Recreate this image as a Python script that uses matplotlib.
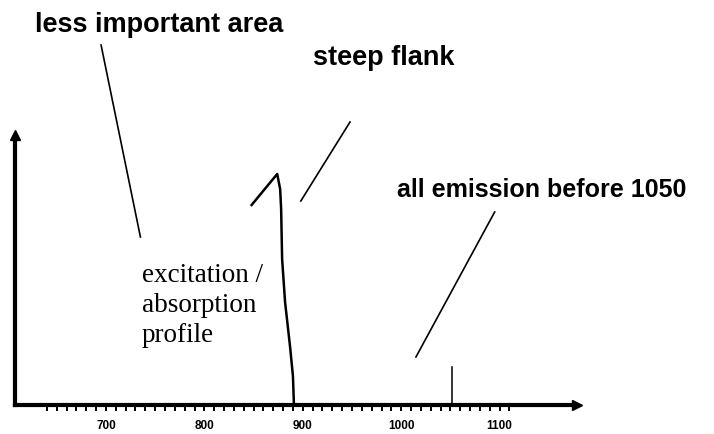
import numpy as np
import matplotlib.pyplot as plt

# excitation / absorption profile (wavelength nm, relative height)
profile_x = [848, 874, 877, 878, 879, 882, 887, 890, 891]
profile_y = [200, 231, 216, 196, 146, 103, 59, 29, 0]

# emission line
emission_x = [1052, 1052]
emission_y = [0, 38]

# pointer strokes for the notes
note_lines = {
    "less important area": ([695, 735], [360, 168]),
    "steep flank": ([948, 898], [283, 204]),
    "all emission before 1050": ([1095, 1015], [193, 48]),
}

major_ticks = [700, 800, 900, 1000, 1100]
minor_ticks = np.arange(640, 1120, 10)

profile_lines = ["excitation /", "absorption", "profile"]

fig = plt.figure(figsize=(7.14, 4.35), dpi=100)
ax = fig.add_axes([0, 0, 1, 1])
ax.set_xlim(592.3, 1317.9)
ax.set_ylim(-29, 406)

for s in ["top", "right"]:
    ax.spines[s].set_visible(False)
ax.spines["bottom"].set_position(("data", 0))
ax.spines["bottom"].set_bounds(607.5, 1178)
ax.spines["bottom"].set_linewidth(3)
ax.spines["left"].set_position(("data", 607.5))
ax.spines["left"].set_bounds(0, 268)
ax.spines["left"].set_linewidth(3)
ax.set_yticks([])

ax.set_xticks(major_ticks)
ax.set_xticks(minor_ticks, minor=True)
ax.tick_params(axis="x", which="both", direction="out", length=4, width=1.4, pad=6)
ax.set_xticklabels([str(t) for t in major_ticks], fontsize=8.5, fontweight="bold",
                   family="Liberation Sans")

# arrow heads
ax.plot([1179], [0], marker=">", color="black", markersize=7, clip_on=False)
ax.plot([607.5], [270], marker="^", color="black", markersize=7, clip_on=False)

ax.plot(profile_x, profile_y, color="black", lw=1.8)
ax.plot(emission_x, emission_y, color="black", lw=1.1)

for name, (lx, ly) in note_lines.items():
    ax.plot(lx, ly, color="black", lw=1.2)

bold = dict(fontweight="bold", family="Liberation Sans", va="center", ha="left")
ax.text(627.8, 381, "less important area", fontsize=19.5, **bold)
ax.text(910.4, 348, "steep flank", fontsize=19.5, **bold)
ax.text(995.7, 216, "all emission before 1050", fontsize=18, **bold)

for i, line in enumerate(profile_lines):
    ax.text(736.6, 124 - 30 * i, line, fontsize=19.5,
            family="Liberation Serif", va="baseline", ha="left")

fig.savefig("out.png", dpi=100)
